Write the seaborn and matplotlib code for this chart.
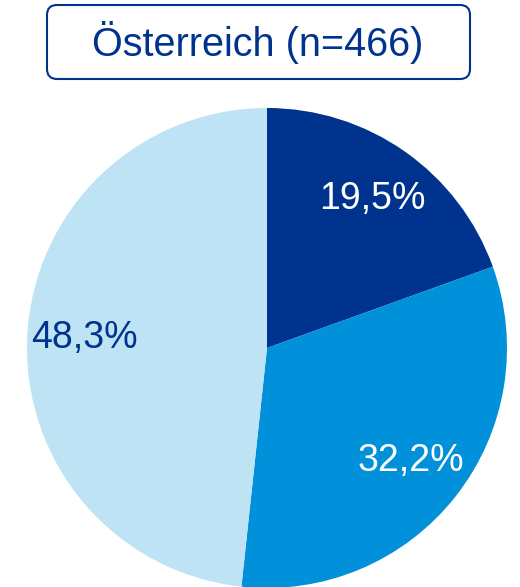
import matplotlib
matplotlib.use("Agg")
import matplotlib.pyplot as plt
import matplotlib.patches as mpatches
import matplotlib.transforms as mtransforms
import seaborn as sns

title = "Österreich (n=466)"
shares = [19.5, 32.2, 48.3]
colors = ["#00338D", "#0091DA", "#BEE3F5"]
text_colors = ["white", "white", "#00338D"]

sns.set_theme(style="white")
plt.rcParams["font.family"] = ["Liberation Sans", "DejaVu Sans"]

fig = plt.figure(figsize=(5.2, 5.87), dpi=100)
W, H = 520, 587

# pie axes: center (267, 348) px from top, radius 240 px
cx, cy, r = 267, H - 348, 240
ax = fig.add_axes([(cx - r) / W, (cy - r) / H, 2 * r / W, 2 * r / H])
wedges, _, autotexts = ax.pie(
    shares,
    colors=colors,
    startangle=90,
    counterclock=False,
    autopct=lambda p: f"{p:.1f}%".replace(".", ","),
    pctdistance=0.76,
    wedgeprops=dict(linewidth=0),
    textprops=dict(fontsize=27),
)
for t, c in zip(autotexts, text_colors):
    t.set_color(c)
ax.set_xlim(-1, 1)
ax.set_ylim(-1, 1)
ax.set_aspect("equal")
ax.axis("off")

# title box (pixel coords)
box = mpatches.FancyBboxPatch(
    (47, H - 79), 423, 74,
    boxstyle="round,pad=0,rounding_size=10",
    transform=mtransforms.IdentityTransform(),
    facecolor="white", edgecolor="#00338D", linewidth=1.5,
)
fig.patches.append(box)
fig.text(258 / W, 1 - 42 / H, title, ha="center", va="center",
         fontsize=28.5, color="#00338D")

fig.savefig("out.png", dpi=100)
